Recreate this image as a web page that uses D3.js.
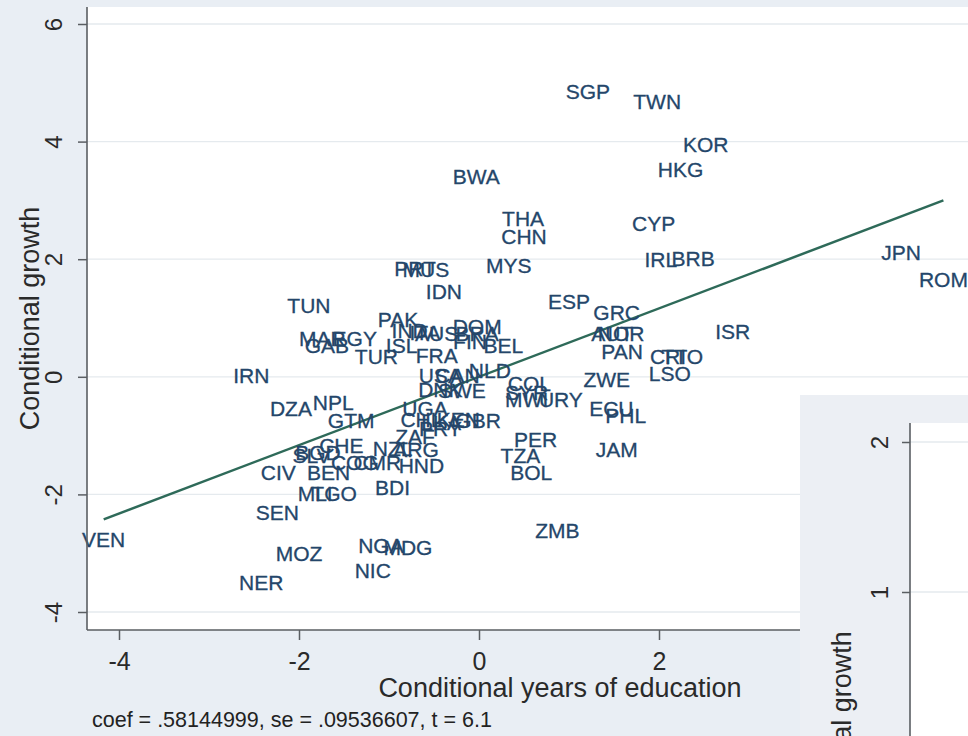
<!DOCTYPE html>
<html>
<head>
<meta charset="utf-8">
<script src="https://cdn.jsdelivr.net/npm/d3@7"></script>
<style>
  html, body { margin: 0; padding: 0; background: #e9eef4; }
  svg { display: block; }
  text { font-family: "Liberation Sans", Arial, sans-serif; }
</style>
</head>
<body>
<svg id="chart" width="968" height="736"></svg>
<script>
// Added-variable plot: conditional growth vs conditional years of education
const countries = ["SGP","TWN","KOR","HKG","BWA","THA","CHN","CYP","MYS","IRL","BRB","JPN","ROM","PRT","MUS","IDN","TUN","ESP","GRC","AUT","NOR","ISR","PAN","CRI","TTO","LSO","ZWE","ECU","PHL","JAM","ZMB","PER","TZA","BOL","COL","SYR","MWI","URY","PAK","IND","ITA","AUS","DOM","BRA","FIN","BEL","ISL","MAR","EGY","GAB","TUR","FRA","IRN","USA","CAN","NLD","DNK","SWE","DZA","NPL","GTM","UGA","CHL","LKA","KEN","GBR","PRY","ZAF","NZL","ARG","CHE","SLV","BGD","CIV","BEN","COG","CMR","HND","BDI","MLI","TGO","SEN","VEN","MOZ","NER","NGA","MDG","NIC"];
const eduX = [1.21,1.98,2.52,2.24,-0.03,0.49,0.50,1.94,0.33,2.02,2.38,4.69,5.16,-0.71,-0.59,-0.39,-1.89,1.00,1.53,1.48,1.58,2.82,1.59,2.10,2.26,2.12,1.42,1.47,1.63,1.53,0.87,0.63,0.46,0.58,0.56,0.53,0.53,0.91,-0.90,-0.77,-0.60,-0.47,-0.02,-0.02,-0.10,0.27,-0.86,-1.74,-1.38,-1.69,-1.14,-0.47,-2.53,-0.43,-0.24,0.12,-0.43,-0.19,-2.09,-1.62,-1.42,-0.60,-0.64,-0.42,-0.23,-0.01,-0.43,-0.71,-0.96,-0.70,-1.53,-1.86,-1.79,-2.23,-1.67,-1.38,-1.13,-0.64,-0.96,-1.82,-1.61,-2.24,-4.17,-2.00,-2.42,-1.09,-0.79,-1.18];
const growthY = [4.85,4.68,3.96,3.52,3.40,2.70,2.38,2.60,1.90,1.99,2.01,2.11,1.65,1.84,1.82,1.45,1.21,1.29,1.09,0.73,0.73,0.77,0.43,0.34,0.34,0.05,-0.05,-0.54,-0.65,-1.24,-2.62,-1.07,-1.33,-1.63,-0.12,-0.26,-0.39,-0.39,0.97,0.78,0.75,0.73,0.85,0.73,0.60,0.54,0.54,0.65,0.65,0.54,0.34,0.37,0.03,0.02,0.03,0.10,-0.22,-0.24,-0.53,-0.44,-0.75,-0.54,-0.73,-0.77,-0.73,-0.75,-0.87,-1.02,-1.22,-1.24,-1.17,-1.33,-1.28,-1.62,-1.63,-1.45,-1.46,-1.50,-1.89,-1.99,-1.99,-2.30,-2.77,-3.01,-3.49,-2.86,-2.91,-3.30];

const xTicks = [-4, -2, 0, 2, 4];
const yTicks = [-4, -2, 0, 2, 4, 6];
const coefText = ".58144999";
const seText = ".09536607";
const tText = "6.1";
const slope = +coefText;

const xTitle = "Conditional years of education";
const yTitle = "Conditional growth";

// second panel (partially visible)
const insetTicks = [1, 2];

const W = 968, H = 736;
const svg = d3.select("#chart");

const bg = "#e9eef4", grid = "#e5eaee", axisCol = "#5a5e62", labelCol = "#24466a", lineCol = "#2e6a59";
const tickFmt = d => String(d);   // plain hyphen for negatives

svg.append("rect").attr("width", W).attr("height", H).attr("fill", bg);

// main panel geometry
const plot = { left: 87, top: 7, right: 1040, bottom: 630 };
const x = d3.scaleLinear().domain([-4, 2]).range([119, 659]);
const y = d3.scaleLinear().domain([-4, 6]).range([612, 24]);

const main = svg.append("g");
main.append("rect")
  .attr("x", plot.left).attr("y", plot.top)
  .attr("width", plot.right - plot.left).attr("height", plot.bottom - plot.top)
  .attr("fill", "#ffffff");

// horizontal gridlines
main.selectAll("line.grid").data(yTicks).join("line")
  .attr("class", "grid")
  .attr("x1", plot.left).attr("x2", plot.right)
  .attr("y1", d => y(d)).attr("y2", d => y(d))
  .attr("stroke", grid).attr("stroke-width", 1.3);

// fitted line through the origin with the estimated slope
const xr = d3.extent(eduX);
main.append("line")
  .attr("x1", x(xr[0])).attr("y1", y(slope * xr[0]))
  .attr("x2", x(xr[1])).attr("y2", y(slope * xr[1]))
  .attr("stroke", lineCol).attr("stroke-width", 2.5);

// country labels centred on their points
main.selectAll("text.cty").data(countries).join("text")
  .attr("class", "cty")
  .attr("x", (d, i) => x(eduX[i]))
  .attr("y", (d, i) => y(growthY[i]))
  .attr("dy", "0.36em")
  .attr("text-anchor", "middle")
  .attr("font-size", 21)
  .attr("fill", labelCol)
  .attr("stroke", labelCol).attr("stroke-width", 0.3)
  .text(d => d);

// y axis
const yAxis = d3.axisLeft(y).tickValues(yTicks).tickSize(9).tickSizeOuter(0).tickFormat(tickFmt);
const gy = main.append("g").attr("transform", `translate(${plot.left},0)`).call(yAxis);
gy.select(".domain").remove();
gy.selectAll(".tick line").attr("stroke", axisCol).attr("stroke-width", 1.5);
gy.selectAll(".tick text")
  .attr("transform", "rotate(-90)")
  .attr("x", 0).attr("y", -25).attr("dy", 0)
  .attr("text-anchor", "middle")
  .attr("font-size", 24).attr("fill", "#2a2a2a")
  .attr("font-family", "Liberation Sans, Arial, sans-serif");
main.append("line")
  .attr("x1", plot.left).attr("x2", plot.left)
  .attr("y1", plot.top).attr("y2", plot.bottom)
  .attr("stroke", axisCol).attr("stroke-width", 1.6);

// x axis
const xAxis = d3.axisBottom(x).tickValues(xTicks).tickSize(10).tickSizeOuter(0).tickFormat(tickFmt);
const gx = main.append("g").attr("transform", `translate(0,${plot.bottom})`).call(xAxis);
gx.select(".domain").remove();
gx.selectAll(".tick line").attr("stroke", axisCol).attr("stroke-width", 1.5);
gx.selectAll(".tick text")
  .attr("y", 40).attr("dy", 0)
  .attr("font-size", 25).attr("fill", "#2a2a2a")
  .attr("font-family", "Liberation Sans, Arial, sans-serif");
main.append("line")
  .attr("x1", plot.left).attr("x2", plot.right)
  .attr("y1", plot.bottom).attr("y2", plot.bottom)
  .attr("stroke", axisCol).attr("stroke-width", 1.6);

// axis titles
main.append("text")
  .attr("x", 560).attr("y", 697)
  .attr("text-anchor", "middle").attr("font-size", 27).attr("fill", "#2a2a2a")
  .text(xTitle);
main.append("text")
  .attr("transform", `translate(39,${(plot.top + plot.bottom) / 2}) rotate(-90)`)
  .attr("text-anchor", "middle").attr("font-size", 27).attr("fill", "#2a2a2a")
  .text(yTitle);

// regression note
main.append("text")
  .attr("x", 92).attr("y", 727)
  .attr("font-size", 21.5).attr("fill", "#222")
  .text(`coef = ${coefText}, se = ${seText}, t = ${tText}`);

// second panel, overlapping at lower right
const inset = svg.append("g");
const ip = { left: 800, top: 395, axis: 910, plotTop: 423 };
const yi = d3.scaleLinear().domain([0, 2]).range([742, 442]);
inset.append("rect")
  .attr("x", ip.left).attr("y", ip.top)
  .attr("width", W - ip.left).attr("height", H - ip.top)
  .attr("fill", "#eceff4");
inset.append("rect")
  .attr("x", ip.axis).attr("y", ip.plotTop)
  .attr("width", W - ip.axis).attr("height", H - ip.plotTop)
  .attr("fill", "#ffffff");
inset.selectAll("line.grid").data(insetTicks).join("line")
  .attr("class", "grid")
  .attr("x1", ip.axis).attr("x2", W)
  .attr("y1", d => yi(d)).attr("y2", d => yi(d))
  .attr("stroke", grid).attr("stroke-width", 1.3);
const yiAxis = d3.axisLeft(yi).tickValues(insetTicks).tickSize(8).tickSizeOuter(0).tickFormat(tickFmt);
const gyi = inset.append("g").attr("transform", `translate(${ip.axis},0)`).call(yiAxis);
gyi.select(".domain").remove();
gyi.selectAll(".tick line").attr("stroke", axisCol).attr("stroke-width", 1.5);
gyi.selectAll(".tick text")
  .attr("transform", "rotate(-90)")
  .attr("x", 0).attr("y", -22).attr("dy", 0)
  .attr("text-anchor", "middle")
  .attr("font-size", 24).attr("fill", "#2a2a2a")
  .attr("font-family", "Liberation Sans, Arial, sans-serif");
inset.append("line")
  .attr("x1", ip.axis).attr("x2", ip.axis)
  .attr("y1", ip.plotTop).attr("y2", H)
  .attr("stroke", axisCol).attr("stroke-width", 1.6);
inset.append("text")
  .attr("transform", `translate(851,743) rotate(-90)`)
  .attr("text-anchor", "middle").attr("font-size", 27).attr("fill", "#2a2a2a")
  .text(yTitle);
</script>
</body>
</html>
